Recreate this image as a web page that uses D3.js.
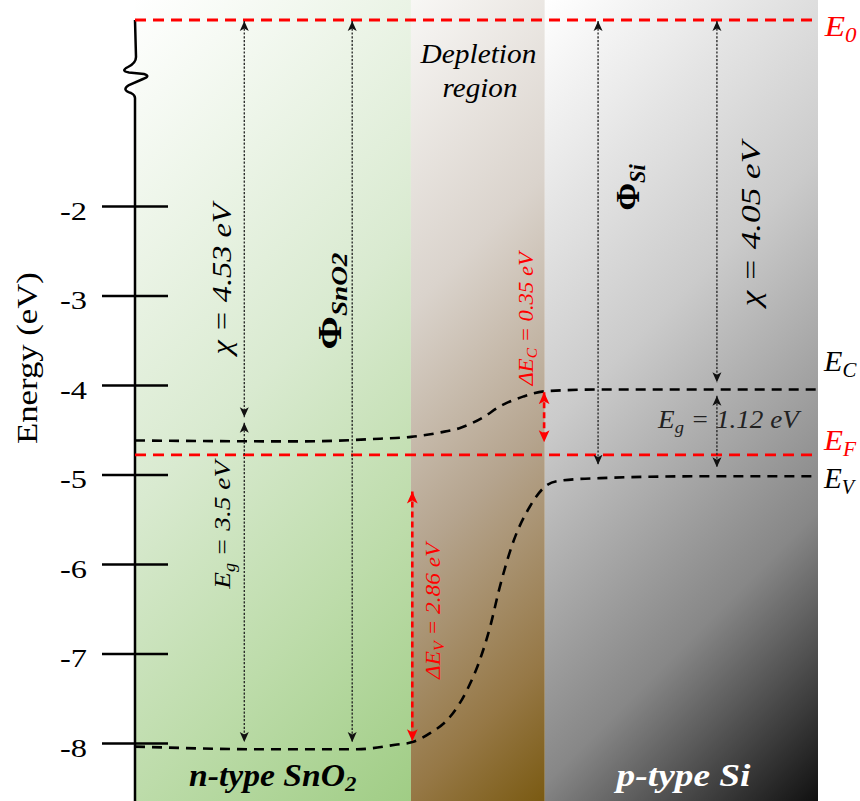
<!DOCTYPE html>
<html><head><meta charset="utf-8">
<script src="https://cdn.jsdelivr.net/npm/d3@7"></script>
<style>body{margin:0;background:#fff;} svg{display:block;}</style>
</head><body>
<svg id="chart" width="860" height="801"></svg>
<script>
// ---------------- DATA ----------------
const yTicks = [-2, -3, -4, -5, -6, -7, -8];
const regionNames = ["n-type SnO2", "Depletion region", "p-type Si"];
const regionBounds = [0, 40.4, 60, 100];          // position (arb. units)
const E0 = 0;                                      // vacuum level
const EF = -4.78;                                  // Fermi level
// conduction band edge
const ecPos = [0, 24.2, 35.9, 40.4, 44.7, 47.6, 51.0, 53.4, 56.8, 60.0, 68.1, 100];
const ecVal = [-4.62, -4.63, -4.60, -4.58, -4.53, -4.48, -4.36, -4.24, -4.13, -4.07, -4.05, -4.05];
// valence band edge
const evPos = [0, 18.6, 32.5, 38.1, 40.6, 43.2, 46.1, 48.6, 50.5, 52.0, 53.4, 55.3, 57.8, 60.3, 62.2, 68.1, 82.7, 100];
const evVal = [-8.04, -8.07, -8.07, -8.02, -7.99, -7.89, -7.71, -7.41, -7.07, -6.70, -6.26, -5.77, -5.36, -5.12, -5.07, -5.04, -5.02, -5.02];
// black dotted double arrows
const arrowNames = ["chi SnO2", "Eg SnO2", "Phi SnO2", "Phi Si", "chi Si", "Eg Si"];
const arrowPos  = [16.0, 16.0, 31.8, 67.8, 85.2, 85.2];
const arrowFrom = [0, -4.41, 0, 0, 0, -4.11];
const arrowTo   = [-4.36, -7.99, -7.99, -4.89, -3.97, -4.92];
// red band offsets
const deltaNames = ["ΔEc", "ΔEv"];
const deltaPos  = [59.9, 40.6];
const deltaFrom = [-4.08, -5.19];
const deltaTo   = [-4.64, -7.98];

// ---------------- SETUP ----------------
const serif = "'Liberation Serif','Times New Roman',Times,serif";
const svg = d3.select("#chart");
const x = d3.scaleLinear().domain([0, 100]).range([135, 818]);
const y = d3.scaleLinear().domain([-8, -2, 0]).range([743, 206, 20]);

const defs = svg.append("defs");
function grad(id, x1, y1, x2, y2, stops) {
  const g = defs.append("linearGradient").attr("id", id).attr("gradientUnits", "userSpaceOnUse")
    .attr("x1", x1).attr("y1", y1).attr("x2", x2).attr("y2", y2);
  stops.forEach(s => g.append("stop").attr("offset", s[0]).attr("stop-color", s[1]));
}
const H = 801;
const regionColors = [
  [[0, "#ffffff"], [0.47, "#d9ead0"], [0.74, "#bddcaa"], [1, "#a0cd85"]],
  [[0, "#f8f7f5"], [0.33, "#dad3cc"], [0.6, "#b5a48e"], [0.85, "#967846"], [1, "#7a5a12"]],
  [[0, "#ffffff"], [0.4, "#cbcbcb"], [0.73, "#878787"], [1, "#101010"]]
];
regionNames.forEach((n, i) => {
  const x0 = x(regionBounds[i]), x1 = x(regionBounds[i + 1]);
  const L = ((x1 - x0) + H) / 2;
  grad("rg" + i, x0, 0, x0 + L, L, regionColors[i]);
});
function marker(id, color, size) {
  defs.append("marker").attr("id", id).attr("viewBox", "0 -5 10 10")
    .attr("refX", 10).attr("refY", 0).attr("markerUnits", "userSpaceOnUse")
    .attr("markerWidth", size).attr("markerHeight", size).attr("orient", "auto-start-reverse")
    .append("path").attr("d", "M0,-4.5L10,0L0,4.5L2.5,0Z").attr("fill", color);
}
marker("ab", "#111", 10);
marker("ar", "#ff0000", 12);

// regions
svg.append("g").selectAll("rect").data(regionNames).join("rect")
  .attr("x", (d, i) => x(regionBounds[i]))
  .attr("width", (d, i) => x(regionBounds[i + 1]) - x(regionBounds[i]))
  .attr("y", 0).attr("height", H)
  .attr("fill", (d, i) => `url(#rg${i})`);

// axis
const axG = svg.append("g").attr("transform", `translate(${x(0)},0)`);
axG.call(d3.axisLeft(y).tickValues(yTicks).tickFormat(d => String(d)).tickSize(33).tickPadding(15));
axG.attr("font-family", serif);
axG.select(".domain").remove();
axG.selectAll(".tick line").attr("stroke", "#000").attr("stroke-width", 2.5);
axG.selectAll(".tick text").attr("font-family", serif).attr("font-size", 26).attr("fill", "#000")
  .attr("dy", "0.5em").attr("textLength", 27).attr("lengthAdjust", "spacingAndGlyphs");
const axR = svg.append("g").attr("transform", `translate(${x(0)},0)`);
axR.call(d3.axisRight(y).tickValues(yTicks).tickFormat(() => "").tickSize(33));
axR.select(".domain").remove();
axR.selectAll(".tick line").attr("stroke", "#000").attr("stroke-width", 2.5);

// axis line with break
const ax = x(0);
svg.append("path")
  .attr("d", `M${ax},${y(E0)}L${ax + 1},57Q${ax + 1},63 ${ax - 7},67Q${ax - 15},71 ${ax - 6},72.5L${ax + 9},74Q${ax + 16},76 ${ax + 8},79L${ax - 6},85Q${ax - 14},90 ${ax - 4},93Q${ax},95 ${ax},98L${ax},${H}`)
  .attr("fill", "none").attr("stroke", "#000").attr("stroke-width", 2.5);

// band lines
const band = (pos, val) => d3.line().x((d, i) => x(pos[i])).y((d, i) => y(val[i])).curve(d3.curveMonotoneX)(pos);
svg.append("path").attr("d", band(ecPos, ecVal)).attr("fill", "none").attr("stroke", "#000")
  .attr("stroke-width", 2.6).attr("stroke-dasharray", "10,7");
svg.append("path").attr("d", band(evPos, evVal)).attr("fill", "none").attr("stroke", "#000")
  .attr("stroke-width", 2.6).attr("stroke-dasharray", "10,7");

// E0 and EF lines
[E0, EF].forEach(v => {
  svg.append("line").attr("x1", x(0)).attr("x2", x(100)).attr("y1", y(v)).attr("y2", y(v))
    .attr("stroke", "#ff0000").attr("stroke-width", 2.8).attr("stroke-dasharray", "11,7");
});

// black dotted arrows
svg.append("g").selectAll("line").data(arrowNames).join("line")
  .attr("x1", (d, i) => x(arrowPos[i])).attr("x2", (d, i) => x(arrowPos[i]))
  .attr("y1", (d, i) => y(arrowFrom[i]) + 1).attr("y2", (d, i) => y(arrowTo[i]))
  .attr("stroke", "#222").attr("stroke-width", 1.3).attr("stroke-dasharray", "2.2,1.6")
  .attr("marker-start", "url(#ab)").attr("marker-end", "url(#ab)");
// red dashed arrows
svg.append("g").selectAll("line").data(deltaNames).join("line")
  .attr("x1", (d, i) => x(deltaPos[i])).attr("x2", (d, i) => x(deltaPos[i]))
  .attr("y1", (d, i) => y(deltaFrom[i])).attr("y2", (d, i) => y(deltaTo[i]))
  .attr("stroke", "#ff0000").attr("stroke-width", 2.6).attr("stroke-dasharray", "6,4")
  .attr("marker-start", "url(#ar)").attr("marker-end", "url(#ar)");

// ---------------- TEXT ----------------
function label(o) {
  const g = svg.append("g").attr("transform", `translate(${o.x},${o.y}) rotate(${o.rot || 0})`);
  const t = g.append("text").attr("font-family", serif).attr("font-size", o.size)
    .attr("fill", o.fill || "#000").attr("font-weight", o.weight || "normal")
    .attr("font-style", o.style || "italic");
  o.parts.forEach(p => {
    const ts = t.append("tspan").text(p.t);
    if (p.size) ts.attr("font-size", p.size);
    if (p.dy) ts.attr("dy", p.dy);
    if (p.style) ts.attr("font-style", p.style);
    if (p.weight) ts.attr("font-weight", p.weight);
  });
  const bb = t.node().getBBox();
  const sx = o.len ? o.len / bb.width : 1;
  t.attr("transform", `scale(${sx},1) translate(${-bb.x - bb.width / 2},0)`);
}
const sub = (s, size, dy) => ({ t: s, size: size, dy: dy });

label({ x: 37, y: 358, rot: -90, size: 30, len: 172, style: "normal", parts: [{ t: "Energy (eV)" }] });
label({ x: 231, y: 279, rot: -90, size: 28, len: 158, parts: [{ t: "χ = 4.53 eV" }] });
label({ x: 341, y: 301, rot: -90, size: 34, len: 97, weight: "bold", style: "normal",
  parts: [{ t: "Φ" }, { t: "SnO2", size: 23, dy: 6, style: "italic" }] });
label({ x: 639, y: 187, rot: -90, size: 34, len: 47, weight: "bold", style: "normal",
  parts: [{ t: "Φ" }, { t: "Si", size: 23, dy: 6, style: "italic" }] });
label({ x: 760, y: 224, rot: -90, size: 28, len: 172, parts: [{ t: "χ = 4.05 eV" }] });
label({ x: 230, y: 524, rot: -90, size: 24, len: 132, parts: [{ t: "E" }, sub("g", 16, 5), { t: " = 3.5 eV", dy: -5 }] });
label({ x: 729.5, y: 428, size: 25, len: 145, fill: "#222", parts: [{ t: "E" }, sub("g", 17, 5), { t: " = 1.12 eV", dy: -5 }] });
label({ x: 533, y: 318, rot: -90, size: 22, len: 137, fill: "#ff0000", parts: [{ t: "ΔE" }, sub("C", 15, 4), { t: " = 0.35 eV", dy: -4 }] });
label({ x: 440, y: 610, rot: -90, size: 22, len: 140, fill: "#ff0000", parts: [{ t: "ΔE" }, sub("V", 15, 4), { t: " = 2.86 eV", dy: -4 }] });
label({ x: 478, y: 63, size: 28, len: 117, parts: [{ t: "Depletion" }] });
label({ x: 480, y: 97, size: 28, len: 75, parts: [{ t: "region" }] });
label({ x: 273, y: 786, size: 31, len: 168, weight: "bold", parts: [{ t: "n-type SnO" }, sub("2", 21, 5)] });
label({ x: 682, y: 786, size: 31, len: 138, weight: "bold", fill: "#fff", parts: [{ t: "p-type Si" }] });
// level labels
label({ x: 840, y: 36, size: 29, len: 33, fill: "#ff0000", parts: [{ t: "E" }, sub("0", 20, 6)] });
label({ x: 840, y: 371, size: 29, len: 34, parts: [{ t: "E" }, sub("C", 20, 6)] });
label({ x: 840, y: 450, size: 29, len: 34, fill: "#ff0000", parts: [{ t: "E" }, sub("F", 20, 6)] });
label({ x: 840, y: 488, size: 29, len: 34, parts: [{ t: "E" }, sub("V", 20, 6)] });
</script>
</body></html>
